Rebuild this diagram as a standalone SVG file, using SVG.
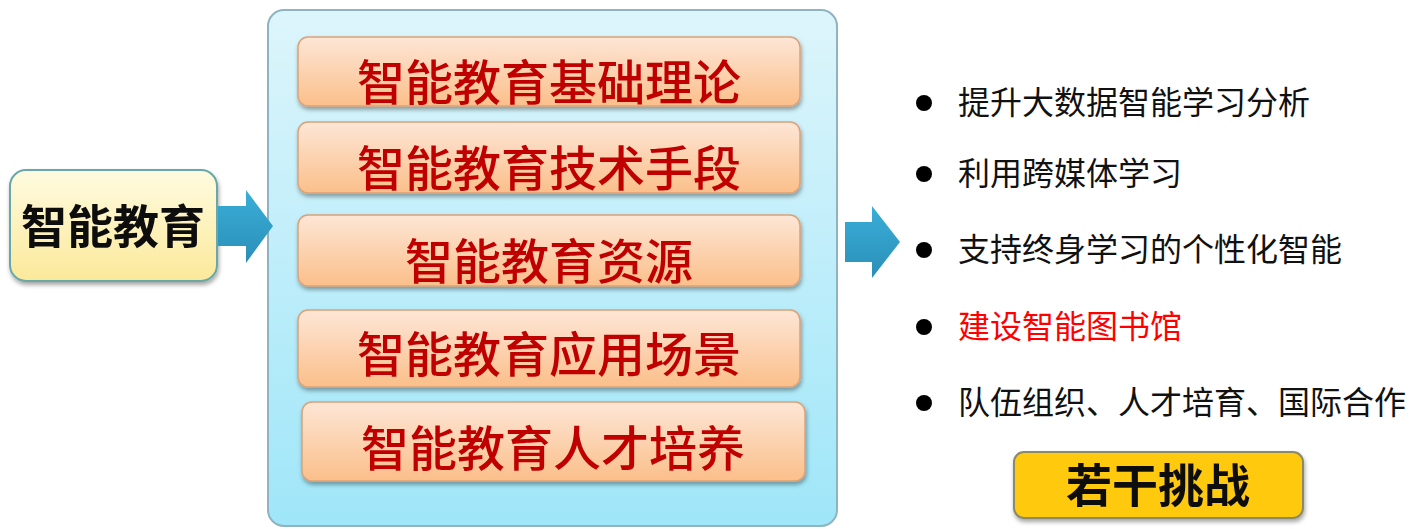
<svg xmlns="http://www.w3.org/2000/svg" width="1409" height="529" viewBox="0 0 1409 529">
<defs>
<linearGradient id="gYellow" x1="0" y1="0" x2="0" y2="1"><stop offset="0" stop-color="#fffbe0"/><stop offset="1" stop-color="#fbe99a"/></linearGradient>
<linearGradient id="gBlue" x1="0" y1="0" x2="0" y2="1"><stop offset="0" stop-color="#ddf5fb"/><stop offset="1" stop-color="#9fe6f9"/></linearGradient>
<linearGradient id="gOrange" x1="0" y1="0" x2="0" y2="1"><stop offset="0" stop-color="#fde6d6"/><stop offset="1" stop-color="#fbbf8a"/></linearGradient>
<linearGradient id="gArrow" x1="0" y1="0" x2="0" y2="1"><stop offset="0" stop-color="#3aaed8"/><stop offset="1" stop-color="#2a8fb8"/></linearGradient>
<filter id="sh" x="-10%" y="-10%" width="120%" height="130%"><feDropShadow dx="1" dy="3" stdDeviation="2" flood-color="#000" flood-opacity="0.35"/></filter>
</defs>
<style>
.inner{fill:url(#gOrange);stroke:#d9a27a;stroke-width:1.5}
.red{font-family:"Noto Sans CJK SC",sans-serif;font-size:48px;font-weight:500;fill:#c00000;text-anchor:middle}
.item{font-family:"Noto Sans CJK SC",sans-serif;font-size:32px;fill:#111}
.arrow{fill:url(#gArrow)}
</style>
<rect width="1409" height="529" fill="#fff"/>
<g id="container">
<rect x="268" y="10" width="569" height="516" rx="16" fill="url(#gBlue)" stroke="#8fb3c0" stroke-width="2"/>
</g>
<g id="source" filter="url(#sh)">
<rect x="10" y="170" width="207" height="111" rx="16" fill="url(#gYellow)" stroke="#6aa8a8" stroke-width="2"/>
<text x="113" y="243" font-family="Noto Sans CJK SC,sans-serif" font-size="46" font-weight="bold" text-anchor="middle" fill="#111">智能教育</text>
</g>
<g id="connectors">
<path class="arrow" d="M218 206 H246 V190 L273 226 L246 263 V246 H218 Z"/>
<path class="arrow" d="M845 222 H872 V206 L900 242 L872 278 V262 H845 Z"/>
</g>
<g id="n1" filter="url(#sh)"><rect class="inner" x="298" y="37" width="502" height="69" rx="10"/><text class="red" x="549" y="100">智能教育基础理论</text></g>
<g id="n2" filter="url(#sh)"><rect class="inner" x="298" y="122" width="502" height="71" rx="10"/><text class="red" x="549" y="186">智能教育技术手段</text></g>
<g id="n3" filter="url(#sh)"><rect class="inner" x="298" y="215" width="502" height="71" rx="10"/><text class="red" x="549" y="279">智能教育资源</text></g>
<g id="n4" filter="url(#sh)"><rect class="inner" x="298" y="310" width="502" height="77" rx="10"/><text class="red" x="549" y="372">智能教育应用场景</text></g>
<g id="n5" filter="url(#sh)"><rect class="inner" x="302" y="402" width="503" height="79" rx="10"/><text class="red" x="553" y="466">智能教育人才培养</text></g>
<g id="list">
<circle cx="924" cy="103" r="8" fill="#000"/><text class="item" x="958" y="114">提升大数据智能学习分析</text>
<circle cx="924" cy="174" r="8" fill="#000"/><text class="item" x="958" y="185">利用跨媒体学习</text>
<circle cx="924" cy="250" r="8" fill="#000"/><text class="item" x="958" y="261">支持终身学习的个性化智能</text>
<circle cx="924" cy="327" r="8" fill="#000"/><text class="item" x="958" y="338" style="fill:#ff0000">建设智能图书馆</text>
<circle cx="924" cy="403" r="8" fill="#000"/><text class="item" x="958" y="414">队伍组织、人才培育、国际合作</text>
</g>
<g id="challenge" filter="url(#sh)">
<rect x="1014" y="452" width="289" height="66" rx="10" fill="#ffc90e" stroke="#8a8a6a" stroke-width="2"/>
<text x="1158" y="502" font-family="Noto Sans CJK SC,sans-serif" font-size="46" font-weight="bold" text-anchor="middle" fill="#111">若干挑战</text>
</g>
</svg>
